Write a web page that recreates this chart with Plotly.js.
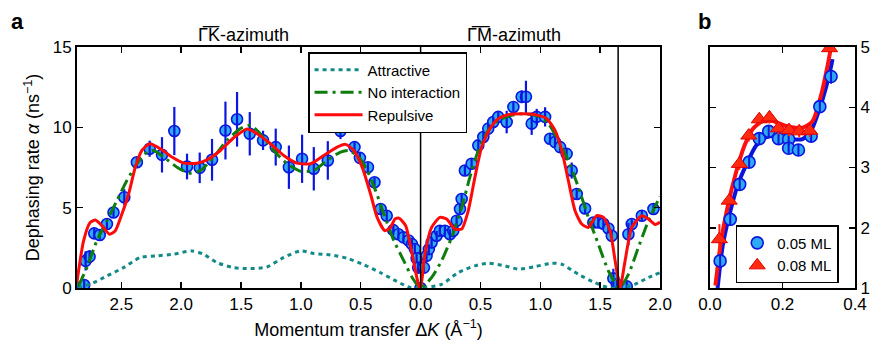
<!DOCTYPE html>
<html><head><meta charset="utf-8">
<script src="https://cdn.plot.ly/plotly-3.0.1.min.js"></script>
<style>html,body{margin:0;padding:0;background:#fff}</style>
</head><body><div id="chart" style="width:870px;height:345px"></div>
<script>
// ---------- Panel a: measured points (ΓK side as |ΔK|, ΓM side) ----------
const gkK = [2.857, 2.81, 2.798, 2.765, 2.726, 2.68, 2.62, 2.565, 2.475, 2.37, 2.263, 2.16, 2.057, 1.951, 1.845, 1.742, 1.63, 1.533, 1.427, 1.316, 1.21, 1.10, 0.99, 0.892, 0.775, 0.669, 0.552, 0.507, 0.44, 0.385, 0.334, 0.283, 0.228, 0.185, 0.143, 0.10, 0.072, 0.048, 0.033, 0.02];
const gkA = [0.0, 0.19, 1.69, 1.95, 3.4, 3.3, 3.98, 4.7, 5.65, 7.83, 8.67, 8.29, 9.77, 7.56, 7.48, 7.98, 9.8, 10.5, 9.6, 9.19, 8.77, 7.52, 8.04, 7.42, 7.94, 9.77, 8.77, 8.1, 7.52, 6.58, 4.92, 4.5, 3.6, 3.35, 3.15, 2.96, 2.73, 2.42, 1.85, 1.27];
const gkErr = [0.2, 0.3, 0.6, 0.4, 0.3, 0.3, 0.3, 0.3, 0.5, 0.3, 0.5, 1.1, 1.5, 0.8, 0.95, 1.3, 1.8, 1.7, 1.35, 0.6, 1.15, 1.35, 1.5, 1.35, 1.2, 0.5, 0.3, 0.3, 0.3, 0.3, 0.3, 0.3, 0.3, 0.3, 0.3, 0.3, 0.3, 0.3, 0.3, 0.3];

const gmK = [0, 0.028, 0.05, 0.069, 0.092, 0.134, 0.161, 0.203, 0.245, 0.273, 0.301, 0.329, 0.343, 0.37, 0.426, 0.482, 0.524, 0.565, 0.607, 0.649, 0.719, 0.775, 0.844, 0.88, 0.928, 0.97, 1.04, 1.081, 1.123, 1.165, 1.22, 1.262, 1.304, 1.374, 1.443, 1.485, 1.527, 1.569, 1.597, 1.61, 1.639, 1.68, 1.722, 1.736, 1.764, 1.848, 1.945];
const gmA = [0, 1.27, 2.0, 2.42, 2.83, 3.25, 3.56, 3.56, 3.35, 3.56, 4.19, 4.92, 5.54, 7.31, 7.73, 8.88, 9.4, 9.92, 10.33, 10.65, 10.33, 11.27, 11.9, 11.9, 10.23, 10.65, 10.65, 9.29, 9.08, 8.77, 8.35, 7.31, 5.85, 4.95, 4.08, 4.08, 4.0, 3.7, 3.25, 0.6, 0.23, 0.02, 0.1, 3.35, 3.98, 4.5, 4.92];
const gmErr = [0.2, 0.3, 0.3, 0.3, 0.3, 0.3, 0.3, 0.3, 0.3, 0.3, 0.3, 0.3, 0.3, 0.3, 0.3, 0.3, 0.3, 0.3, 0.3, 0.3, 0.7, 0.3, 0.4, 1.0, 0.7, 0.5, 0.6, 0.3, 0.3, 0.3, 0.3, 0.5, 0.3, 0.3, 0.3, 0.3, 0.3, 0.3, 0.3, 0.6, 0.3, 0.3, 0.3, 0.7, 0.3, 0.3, 0.3];

// ---------- Panel a: model curves ----------
const attGK_K = [2.86, 2.732, 2.62, 2.481, 2.341, 2.202, 2.063, 1.91, 1.812, 1.701, 1.561, 1.421, 1.283, 1.143, 1.003, 0.892, 0.753, 0.614, 0.474, 0.334, 0.196, 0.084, 0];
const attGK_A = [0, 0.33, 0.75, 1.27, 1.9, 2.0, 2.1, 2.31, 2.1, 1.58, 1.27, 1.21, 1.31, 1.9, 2.31, 2.15, 2.06, 1.85, 1.45, 0.95, 0.4, 0.02, 0];
const attGM_K = [0.175, 0.315, 0.454, 0.565, 0.705, 0.816, 0.956, 1.095, 1.179, 1.318, 1.457, 1.569, 1.67, 1.79, 1.903, 2.0];
const attGM_A = [0.23, 0.96, 1.38, 1.54, 1.38, 1.17, 1.33, 1.54, 1.48, 0.85, 0.33, 0.02, 0, 0.23, 0.65, 0.96];

const nonGK_K = [2.857, 2.788, 2.704, 2.62, 2.537, 2.453, 2.37, 2.286, 2.23, 2.146, 2.035, 1.937, 1.839, 1.728, 1.617, 1.505, 1.421, 1.338, 1.227, 1.115, 1.003, 0.892, 0.781, 0.669, 0.6, 0.516, 0.446, 0.376, 0.307, 0.223, 0.14, 0.07, 0];
const nonGK_A = [0.12, 1.27, 2.94, 4.19, 5.44, 6.69, 7.73, 8.46, 8.56, 8.15, 7.52, 7.15, 7.31, 8.15, 9.19, 9.92, 10.13, 9.6, 8.56, 7.73, 7.27, 7.31, 7.94, 8.46, 8.56, 8.15, 7.31, 6.06, 4.6, 2.94, 1.69, 0.65, 0];
const nonGM_K = [0.092, 0.175, 0.259, 0.343, 0.412, 0.482, 0.565, 0.649, 0.761, 0.872, 0.983, 1.067, 1.15, 1.234, 1.318, 1.401, 1.485, 1.569, 1.66, 1.736, 1.819, 1.903, 1.987, 2.0];
const nonGM_A = [0.65, 1.69, 3.15, 5.02, 6.9, 8.56, 9.81, 10.44, 10.75, 10.85, 10.69, 10.23, 9.19, 7.94, 6.27, 4.4, 2.73, 1.06, 0, 0.85, 2.52, 4.19, 5.5, 5.7];

const repGK_K = [2.871, 2.815, 2.76, 2.717, 2.662, 2.598, 2.55, 2.495, 2.439, 2.383, 2.328, 2.263, 2.174, 2.077, 1.979, 1.868, 1.784, 1.672, 1.561, 1.45, 1.366, 1.254, 1.143, 1.032, 0.92, 0.809, 0.697, 0.627, 0.558, 0.488, 0.418, 0.363, 0.298, 0.251, 0.215, 0.181, 0.125, 0.07, 0.014, 0];
const repGK_A = [0.33, 2.94, 4.08, 4.23, 3.88, 3.35, 3.56, 4.6, 5.85, 7.52, 8.56, 8.98, 8.67, 8.15, 7.77, 7.77, 7.98, 8.56, 9.35, 9.9, 9.6, 8.98, 8.25, 7.77, 7.73, 8.25, 8.77, 8.94, 8.56, 7.52, 5.85, 4.4, 3.56, 3.77, 4.29, 4.35, 3.88, 2.1, 0.12, 0];
const repGM_K = [0.036, 0.092, 0.161, 0.217, 0.287, 0.343, 0.398, 0.454, 0.51, 0.579, 0.649, 0.733, 0.844, 0.956, 1.053, 1.123, 1.179, 1.234, 1.29, 1.346, 1.401, 1.471, 1.527, 1.583, 1.625, 1.666, 1.708, 1.764, 1.848, 1.903, 1.959, 2.0];
const repGM_A = [2.1, 3.77, 4.4, 4.29, 3.67, 3.67, 4.81, 6.9, 8.77, 9.92, 10.54, 10.79, 10.85, 10.79, 10.54, 9.81, 8.56, 6.69, 4.81, 3.98, 3.77, 4.5, 4.4, 3.56, 1.69, 0.02, 1.69, 3.77, 4.5, 4.29, 3.95, 4.1];

const axisTickVals = [-2.5, -2.0, -1.5, -1.0, -0.5, 0, 0.5, 1.0, 1.5, 2.0];
const axisTickText = ['2.5', '2.0', '1.5', '1.0', '0.5', '0.0', '0.5', '1.0', '1.5', '2.0'];
const boundaryM = 1.65;

// ---------- Panel b ----------
const b05x = [0.028, 0.056, 0.082, 0.108, 0.136, 0.162, 0.189, 0.217, 0.217, 0.244, 0.279, 0.303, 0.334];
const b05y = [1.45, 2.14, 2.72, 3.09, 3.48, 3.60, 3.48, 3.47, 3.32, 3.29, 3.52, 4.01, 4.51];
const b05e = [0.12, 0.1, 0.1, 0.1, 0.1, 0.1, 0.1, 0.1, 0.1, 0.1, 0.1, 0.1, 0.12];
const b08x = [0.026, 0.053, 0.081, 0.107, 0.136, 0.164, 0.189, 0.218, 0.246, 0.275, 0.330];
const b08y = [1.81, 2.45, 3.06, 3.53, 3.80, 3.83, 3.65, 3.62, 3.60, 3.61, 4.98];
const b08e = [0.25, 0.1, 0.1, 0.1, 0.1, 0.1, 0.1, 0.1, 0.1, 0.1, 0.1];
const b05fitX = [0.021, 0.035, 0.053, 0.076, 0.099, 0.127, 0.154, 0.191, 0.228, 0.255, 0.279, 0.302, 0.320, 0.334, 0.338];
const b05fitY = [1.0, 1.70, 2.2, 2.70, 3.03, 3.36, 3.50, 3.52, 3.47, 3.47, 3.61, 3.97, 4.33, 4.68, 4.8];
const b08fitX = [0.015, 0.030, 0.049, 0.072, 0.095, 0.118, 0.145, 0.173, 0.210, 0.255, 0.283, 0.306, 0.324, 0.334];
const b08fitY = [1.04, 1.76, 2.36, 2.92, 3.36, 3.64, 3.77, 3.77, 3.69, 3.66, 3.77, 4.19, 4.68, 5.0];

// ---------- build ----------
const neg = a => a.map(v => -v);
function joinCurve(gK, gA, mK, mA) {
  return { x: neg(gK).concat(mK), y: gA.concat(mA) };
}
const F = 'Liberation Sans, Arial, Helvetica, sans-serif';
const dataX = neg(gkK).concat(gmK);
const dataY = gkA.concat(gmA);
const dataE = gkErr.concat(gmErr);
const att = joinCurve(attGK_K, attGK_A, attGM_K, attGM_A);
const non = joinCurve(nonGK_K, nonGK_A, nonGM_K, nonGM_A);
const rep = joinCurve(repGK_K, repGK_A, repGM_K, repGM_A);

const FILL = '#2eaaf2', EDGE = '#0b16e0';
const traces = [
  { x: dataX, y: dataY, type: 'scatter', mode: 'markers', showlegend: false, xaxis: 'x', yaxis: 'y',
    marker: { symbol: 'circle', size: 11, color: FILL, line: { color: EDGE, width: 1.6 } } },
  { x: dataX, y: dataY, type: 'scatter', mode: 'markers', showlegend: false, xaxis: 'x', yaxis: 'y',
    marker: { size: 1, color: 'rgba(0,0,0,0)' },
    error_y: { type: 'data', array: dataE, visible: true, color: EDGE, thickness: 2.2, width: 0 } },
  { x: att.x, y: att.y, type: 'scatter', mode: 'lines', name: 'Attractive', xaxis: 'x', yaxis: 'y',
    line: { color: '#138a8a', width: 3, dash: '4px,4px', shape: 'spline', smoothing: 0.7 } },
  { x: non.x, y: non.y, type: 'scatter', mode: 'lines', name: 'No interaction', xaxis: 'x', yaxis: 'y',
    line: { color: '#0e7d0e', width: 3, dash: '13px,5px,3px,5px', shape: 'spline', smoothing: 0.6 } },
  { x: rep.x, y: rep.y, type: 'scatter', mode: 'lines', name: 'Repulsive', xaxis: 'x', yaxis: 'y',
    line: { color: '#ff0a0a', width: 3, shape: 'spline', smoothing: 0.6 } },
  // panel b
  { x: b05fitX, y: b05fitY, type: 'scatter', mode: 'lines', showlegend: false, xaxis: 'x2', yaxis: 'y2',
    line: { color: '#0a14dc', width: 4, shape: 'spline', smoothing: 0.7 } },
  { x: b08fitX, y: b08fitY, type: 'scatter', mode: 'lines', showlegend: false, xaxis: 'x2', yaxis: 'y2',
    line: { color: '#ff1010', width: 4, shape: 'spline', smoothing: 0.7 } },
  { x: b05x, y: b05y, type: 'scatter', mode: 'markers', name: '0.05 ML', legend: 'legend2', xaxis: 'x2', yaxis: 'y2',
    marker: { symbol: 'circle', size: 12, color: FILL, line: { color: EDGE, width: 1.6 } } },
  { x: b05x, y: b05y, type: 'scatter', mode: 'markers', showlegend: false, xaxis: 'x2', yaxis: 'y2',
    marker: { size: 1, color: 'rgba(0,0,0,0)' },
    error_y: { type: 'data', array: b05e, visible: true, color: EDGE, thickness: 2, width: 0 } },
  { x: b08x, y: b08y, type: 'scatter', mode: 'markers', name: '0.08 ML', legend: 'legend2', xaxis: 'x2', yaxis: 'y2',
    marker: { symbol: 'triangle-up', size: 14, color: '#ff2a10', line: { color: '#e00000', width: 1 } },
    error_y: { type: 'data', array: b08e, visible: true, color: '#ff2010', thickness: 2, width: 0 } }
];

const axBase = { showgrid: false, zeroline: false, showline: true, linecolor: '#000', linewidth: 2,
  ticks: 'inside', ticklen: 6, tickwidth: 1.5, tickcolor: '#000', mirror: 'ticks',
  tickfont: { family: F, size: 17, color: '#000' } };

const layout = {
  width: 870, height: 345,
  margin: { l: 77, r: 15, t: 47, b: 57 },
  paper_bgcolor: '#fff', plot_bgcolor: '#fff',
  font: { family: F, size: 17, color: '#000' },
  showlegend: true,
  xaxis: Object.assign({}, axBase, { domain: [0, 0.7494], anchor: 'y', range: [-2.87, 2.0],
    tickmode: 'array', tickvals: axisTickVals, ticktext: axisTickText,
    title: { text: 'Momentum transfer Δ<i>K</i> (Å<sup>−1</sup>)', font: { family: F, size: 18 }, standoff: 10 } }),
  yaxis: Object.assign({}, axBase, { domain: [0, 1], anchor: 'x', range: [0, 15],
    tickmode: 'array', tickvals: [0, 5, 10, 15],
    title: { text: 'Dephasing rate <i>α</i> (ns<sup>−1</sup>)', font: { family: F, size: 18 }, standoff: 8 } }),
  xaxis2: Object.assign({}, axBase, { domain: [0.8136, 1], anchor: 'y2', range: [0, 0.4],
    tickmode: 'array', tickvals: [0, 0.2, 0.4], ticktext: ['0.0', '0.2', '0.4'] }),
  yaxis2: Object.assign({}, axBase, { domain: [0, 1], anchor: 'x2', side: 'right', range: [1, 5],
    tickmode: 'array', tickvals: [1, 2, 3, 4, 5] }),
  legend: { x: 0.297, y: 0.979, xanchor: 'left', yanchor: 'top', bgcolor: '#fff', bordercolor: '#000',
    borderwidth: 1.5, font: { family: F, size: 15 }, tracegroupgap: 0, itemwidth: 48 },
  legend2: { x: 0.8467, y: 0.261, xanchor: 'left', yanchor: 'top', bgcolor: '#fff', bordercolor: '#000',
    borderwidth: 1.5, font: { family: F, size: 15 }, tracegroupgap: 0 },
  shapes: [
    { type: 'line', xref: 'x', yref: 'paper', x0: 0, x1: 0, y0: 0, y1: 1, line: { color: '#000', width: 1.5 } },
    { type: 'line', xref: 'x', yref: 'paper', x0: boundaryM, x1: boundaryM, y0: 0, y1: 1, line: { color: '#000', width: 1.5 } }
  ],
  annotations: [
    { text: '<b>a</b>', xref: 'paper', yref: 'paper', x: -0.076, y: 1.105, xanchor: 'center', yanchor: 'middle',
      showarrow: false, font: { family: F, size: 22 } },
    { text: '<b>b</b>', xref: 'paper', yref: 'paper', x: 0.807, y: 1.105, xanchor: 'center', yanchor: 'middle',
      showarrow: false, font: { family: F, size: 22 } },
    { text: 'Γ\u0305K\u0305-azimuth', xref: 'x', yref: 'paper', x: -1.48, y: 1.05, xanchor: 'center', yanchor: 'middle',
      showarrow: false, font: { family: F, size: 18 } },
    { text: 'Γ\u0305M\u0305-azimuth', xref: 'x', yref: 'paper', x: 0.78, y: 1.05, xanchor: 'center', yanchor: 'middle',
      showarrow: false, font: { family: F, size: 18 } }
  ]
};

Plotly.newPlot('chart', traces, layout, { staticPlot: true, displayModeBar: false });
</script></body></html>
